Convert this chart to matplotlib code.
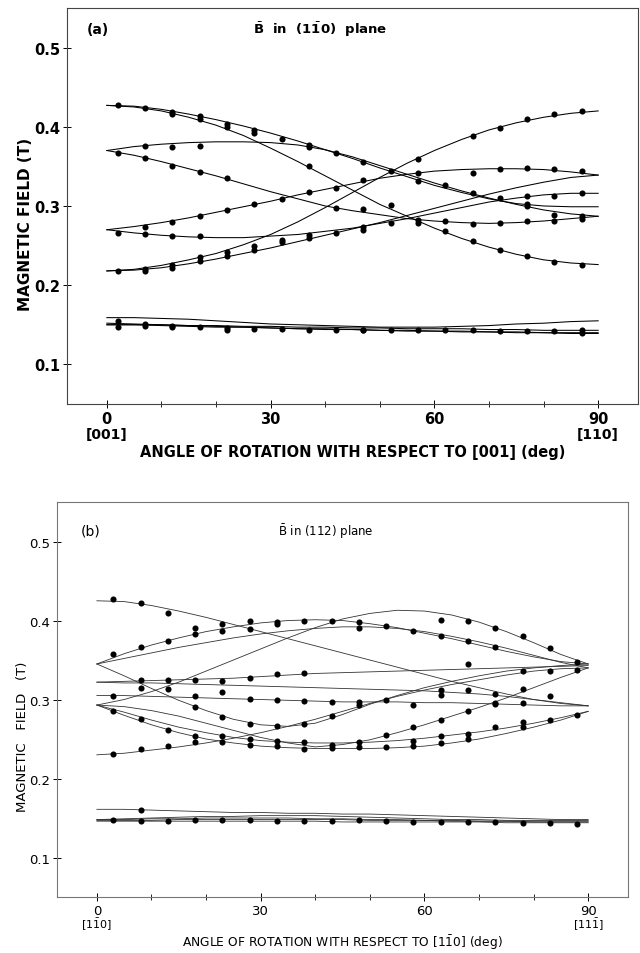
import matplotlib
matplotlib.use("Agg")
import matplotlib.pyplot as plt
from matplotlib.ticker import MultipleLocator
import matplotlib.transforms as mtransforms

# curve grid (deg)
ang = [0, 5, 10, 15, 20, 25, 30, 35, 40, 45, 50, 55, 60, 65, 70, 75, 80, 85, 90]

# ---- panel (a): B in (1-10) plane ----
curves_a = [
    [0.427, 0.425, 0.420, 0.412, 0.402, 0.389, 0.373, 0.356, 0.338, 0.320, 0.302, 0.287, 0.272, 0.259, 0.248, 0.239, 0.232, 0.228, 0.226],
    [0.427, 0.426, 0.422, 0.416, 0.409, 0.401, 0.392, 0.382, 0.371, 0.360, 0.348, 0.337, 0.326, 0.317, 0.309, 0.303, 0.300, 0.299, 0.299],
    [0.370, 0.375, 0.378, 0.380, 0.381, 0.381, 0.380, 0.377, 0.371, 0.362, 0.351, 0.340, 0.329, 0.319, 0.310, 0.302, 0.295, 0.290, 0.287],
    [0.370, 0.364, 0.356, 0.347, 0.338, 0.328, 0.318, 0.309, 0.300, 0.294, 0.289, 0.284, 0.281, 0.279, 0.278, 0.279, 0.281, 0.284, 0.287],
    [0.270, 0.274, 0.279, 0.285, 0.292, 0.299, 0.306, 0.314, 0.321, 0.328, 0.335, 0.340, 0.344, 0.346, 0.347, 0.347, 0.346, 0.343, 0.339],
    [0.218, 0.220, 0.225, 0.232, 0.240, 0.251, 0.264, 0.280, 0.298, 0.317, 0.336, 0.354, 0.370, 0.384, 0.396, 0.405, 0.412, 0.417, 0.420],
    [0.218, 0.219, 0.222, 0.227, 0.233, 0.240, 0.247, 0.255, 0.263, 0.271, 0.279, 0.288, 0.297, 0.306, 0.315, 0.323, 0.330, 0.336, 0.339],
    [0.270, 0.266, 0.263, 0.261, 0.260, 0.260, 0.262, 0.264, 0.268, 0.272, 0.278, 0.284, 0.291, 0.298, 0.305, 0.310, 0.314, 0.316, 0.316],
    [0.159, 0.159, 0.158, 0.157, 0.155, 0.153, 0.151, 0.150, 0.149, 0.148, 0.147, 0.147, 0.147, 0.148, 0.149, 0.151, 0.152, 0.154, 0.155],
    [0.150, 0.150, 0.150, 0.149, 0.149, 0.148, 0.148, 0.147, 0.147, 0.146, 0.146, 0.145, 0.145, 0.145, 0.144, 0.144, 0.143, 0.143, 0.143],
    [0.150, 0.150, 0.149, 0.148, 0.147, 0.147, 0.146, 0.145, 0.145, 0.144, 0.143, 0.143, 0.142, 0.142, 0.141, 0.141, 0.140, 0.140, 0.140],
    [0.152, 0.151, 0.150, 0.149, 0.148, 0.147, 0.146, 0.145, 0.144, 0.144, 0.143, 0.142, 0.142, 0.141, 0.141, 0.140, 0.140, 0.139, 0.139],
]

dots_a_x = [2, 7, 12, 12, 17, 17, 22, 22, 27, 27, 32, 37, 37, 42, 47, 52, 57, 62, 67, 72, 77, 77,
            7, 12, 17,
            2, 7, 12, 17, 22, 42, 47, 57, 62, 67, 72, 77, 82, 87, 87,
            37, 52, 57, 62, 67, 72, 77, 82, 87,
            7, 12, 17, 22, 27, 32, 37, 42, 47, 57, 67, 72, 77, 82, 87,
            57, 67, 72, 77, 82, 87,
            2, 7, 7, 12, 12, 17, 17, 22, 22, 27, 27, 32, 32, 37, 37, 42, 47, 47, 52,
            2, 7, 12, 17,
            77, 82, 87, 82,
            2, 2, 7, 7, 12, 12, 17, 22, 22, 27, 32, 37, 42, 47, 47, 52, 57, 62, 67, 72, 77, 82, 87, 87]
dots_a_y = [0.427, 0.424, 0.419, 0.416, 0.413, 0.410, 0.404, 0.400, 0.396, 0.392, 0.384, 0.377, 0.374, 0.367, 0.356, 0.344, 0.332, 0.326, 0.316, 0.310, 0.303, 0.300,
            0.376, 0.374, 0.376,
            0.367, 0.361, 0.351, 0.343, 0.335, 0.297, 0.296, 0.282, 0.281, 0.277, 0.279, 0.281, 0.281, 0.284, 0.287,
            0.351, 0.301, 0.279, 0.268, 0.256, 0.245, 0.237, 0.229, 0.226,
            0.274, 0.280, 0.287, 0.295, 0.302, 0.309, 0.318, 0.323, 0.333, 0.342, 0.341, 0.347, 0.348, 0.347, 0.344,
            0.359, 0.388, 0.398, 0.410, 0.416, 0.420,
            0.218, 0.218, 0.221, 0.222, 0.226, 0.231, 0.235, 0.237, 0.242, 0.244, 0.249, 0.254, 0.257, 0.260, 0.263, 0.266, 0.270, 0.273, 0.279,
            0.266, 0.264, 0.262, 0.262,
            0.313, 0.313, 0.317, 0.289,
            0.155, 0.147, 0.151, 0.148, 0.149, 0.147, 0.147, 0.146, 0.144, 0.145, 0.145, 0.144, 0.144, 0.144, 0.143, 0.143, 0.143, 0.143, 0.143, 0.142, 0.142, 0.142, 0.143, 0.140]

# ---- panel (b): B in (112) plane ----
curves_b = [
    [0.425, 0.424, 0.419, 0.412, 0.404, 0.395, 0.386, 0.377, 0.368, 0.359, 0.350, 0.341, 0.332, 0.323, 0.315, 0.307, 0.300, 0.295, 0.292],
    [0.345, 0.358, 0.369, 0.378, 0.386, 0.392, 0.397, 0.400, 0.401, 0.400, 0.396, 0.391, 0.384, 0.377, 0.369, 0.361, 0.354, 0.348, 0.345],
    [0.345, 0.352, 0.359, 0.366, 0.372, 0.378, 0.383, 0.387, 0.390, 0.392, 0.392, 0.390, 0.386, 0.380, 0.373, 0.365, 0.356, 0.347, 0.340],
    [0.293, 0.300, 0.310, 0.322, 0.336, 0.350, 0.364, 0.378, 0.391, 0.402, 0.409, 0.413, 0.412, 0.407, 0.398, 0.386, 0.372, 0.357, 0.345],
    [0.322, 0.323, 0.324, 0.325, 0.326, 0.327, 0.329, 0.331, 0.333, 0.334, 0.335, 0.336, 0.337, 0.338, 0.339, 0.340, 0.341, 0.342, 0.343],
    [0.322, 0.321, 0.321, 0.320, 0.319, 0.318, 0.317, 0.316, 0.315, 0.314, 0.313, 0.312, 0.311, 0.309, 0.307, 0.304, 0.300, 0.296, 0.292],
    [0.305, 0.305, 0.304, 0.303, 0.302, 0.301, 0.300, 0.299, 0.298, 0.297, 0.297, 0.297, 0.296, 0.296, 0.295, 0.294, 0.293, 0.292, 0.292],
    [0.345, 0.330, 0.314, 0.299, 0.286, 0.275, 0.268, 0.266, 0.270, 0.281, 0.294, 0.305, 0.315, 0.323, 0.330, 0.336, 0.340, 0.343, 0.345],
    [0.230, 0.232, 0.236, 0.240, 0.245, 0.251, 0.258, 0.266, 0.275, 0.285, 0.295, 0.304, 0.312, 0.319, 0.325, 0.331, 0.336, 0.339, 0.340],
    [0.293, 0.284, 0.274, 0.265, 0.258, 0.252, 0.248, 0.246, 0.245, 0.245, 0.246, 0.248, 0.251, 0.255, 0.259, 0.264, 0.270, 0.277, 0.285],
    [0.293, 0.280, 0.268, 0.258, 0.250, 0.245, 0.241, 0.239, 0.238, 0.238, 0.238, 0.239, 0.241, 0.245, 0.250, 0.257, 0.265, 0.274, 0.285],
    [0.293, 0.291, 0.286, 0.279, 0.270, 0.261, 0.252, 0.245, 0.240, 0.243, 0.249, 0.258, 0.268, 0.279, 0.290, 0.302, 0.315, 0.328, 0.340],
    [0.161, 0.161, 0.160, 0.159, 0.158, 0.157, 0.157, 0.156, 0.156, 0.155, 0.155, 0.154, 0.153, 0.152, 0.151, 0.150, 0.149, 0.148, 0.148],
    [0.148, 0.149, 0.150, 0.151, 0.152, 0.152, 0.153, 0.153, 0.153, 0.152, 0.151, 0.150, 0.149, 0.148, 0.148, 0.147, 0.147, 0.147, 0.147],
    [0.148, 0.148, 0.149, 0.149, 0.150, 0.150, 0.150, 0.150, 0.149, 0.149, 0.148, 0.148, 0.147, 0.147, 0.146, 0.146, 0.146, 0.146, 0.146],
    [0.146, 0.146, 0.146, 0.146, 0.146, 0.146, 0.146, 0.146, 0.146, 0.145, 0.145, 0.145, 0.145, 0.145, 0.145, 0.144, 0.144, 0.144, 0.144],
    [0.147, 0.147, 0.147, 0.148, 0.148, 0.148, 0.148, 0.148, 0.148, 0.148, 0.147, 0.147, 0.147, 0.146, 0.146, 0.146, 0.145, 0.145, 0.145],
]

dots_b_x = [3, 8, 13, 18, 18, 23, 23, 28, 28, 33, 33, 38, 43, 48, 48, 53, 58, 63, 63, 68, 68, 73, 73, 78, 83, 88, 88,
            3, 8, 13,
            8, 13, 18, 23, 28, 33, 38, 68, 78, 83,
            3, 8, 13, 18, 23, 28, 33, 38, 43, 48, 53, 58, 63, 63, 68, 73, 73, 78, 78, 83, 18,
            3, 8, 13, 18, 18, 23, 23, 23, 28, 28, 28, 33, 33, 33, 38, 38, 38, 43, 43, 43, 48, 48, 48,
            53, 53, 58, 58, 58, 63, 63, 63, 68, 68, 68, 73, 73, 78, 78, 83, 88,
            3, 8, 13,
            3, 8, 8, 13, 18, 23, 28, 33, 38, 43, 48, 53, 58, 63, 68, 73, 78, 83, 88]
dots_b_y = [0.427, 0.4225, 0.410, 0.391, 0.383, 0.395, 0.387, 0.399, 0.389, 0.398, 0.395, 0.399, 0.399, 0.398, 0.391, 0.393, 0.387, 0.401, 0.380, 0.399, 0.374, 0.391, 0.367, 0.381, 0.365, 0.347, 0.338,
            0.358, 0.366, 0.374,
            0.325, 0.325, 0.325, 0.323, 0.327, 0.332, 0.333, 0.345, 0.336, 0.336,
            0.305, 0.314, 0.313, 0.304, 0.309, 0.301, 0.300, 0.298, 0.297, 0.297, 0.299, 0.293, 0.312, 0.306, 0.312, 0.307, 0.294, 0.313, 0.296, 0.305, 0.290,
            0.285, 0.275, 0.262, 0.254, 0.246, 0.278, 0.254, 0.246, 0.269, 0.250, 0.242, 0.267, 0.248, 0.241, 0.269, 0.246, 0.237, 0.279, 0.242, 0.239, 0.293, 0.246, 0.240,
            0.255, 0.240, 0.265, 0.248, 0.241, 0.274, 0.254, 0.245, 0.285, 0.256, 0.250, 0.295, 0.265, 0.271, 0.265, 0.274, 0.280,
            0.231, 0.237, 0.241,
            0.148, 0.160, 0.146, 0.146, 0.147, 0.147, 0.147, 0.146, 0.146, 0.146, 0.147, 0.146, 0.145, 0.145, 0.145, 0.145, 0.144, 0.144, 0.142]

yticks = [0.1, 0.2, 0.3, 0.4, 0.5]
xticks = [0, 30, 60, 90]


def setup_axes(ax, bold, size, spine_col):
    ax.set_xlim(-7.3, 97.3)
    ax.set_ylim(0.05, 0.55)
    ax.set_yticks(yticks)
    ax.set_yticklabels([str(v) for v in yticks])
    ax.set_xticks(xticks)
    ax.set_xticklabels([str(v) for v in xticks])
    ax.xaxis.set_minor_locator(MultipleLocator(10))
    w = 'bold' if bold else 'normal'
    ax.tick_params(which='major', direction='inout', length=6, width=0.7,
                   labelsize=size, pad=2, colors='black')
    ax.tick_params(which='minor', direction='inout', length=5, width=0.6)
    for lab in ax.get_xticklabels() + ax.get_yticklabels():
        lab.set_fontweight(w)
    for s in ax.spines.values():
        s.set_color(spine_col)
        s.set_linewidth(0.8)


fig = plt.figure(figsize=(6.4, 9.54), dpi=100)

# panel (a)
ax1 = fig.add_axes([0.1047, 0.5755, 0.8922, 0.4151])
for c in curves_a:
    ax1.plot(ang, c, color='black', lw=0.75)
ax1.plot(dots_a_x, dots_a_y, 'o', color='black', ms=4.4, mec='none')
setup_axes(ax1, True, 10.5, '#444444')
trans1 = mtransforms.blended_transform_factory(ax1.transData, ax1.transAxes)
ax1.text(0, -0.075, '[001]', transform=trans1, ha='center', va='center',
         fontsize=10, fontweight='bold')
ax1.text(90, -0.075, '[110]', transform=trans1, ha='center', va='center',
         fontsize=10, fontweight='bold')
ax1.text(0.5, -0.121, 'ANGLE OF ROTATION WITH RESPECT TO [001] (deg)',
         transform=ax1.transAxes, ha='center', va='center', fontsize=10.5, fontweight='bold')
ax1.text(-0.0735, 0.455, 'MAGNETIC FIELD (T)', transform=ax1.transAxes, rotation=90,
         ha='center', va='center', fontsize=11, fontweight='bold')
ax1.text(0.054, 0.947, '(a)', transform=ax1.transAxes, ha='center', va='center',
         fontsize=10, fontweight='bold')
ax1.text(0.443, 0.947, r'$\bar{\mathbf{B}}$  in  (1$\bar{\mathbf{1}}$0)  plane',
         transform=ax1.transAxes, ha='center', va='center', fontsize=9.5, fontweight='bold')

# panel (b)
ax2 = fig.add_axes([0.0891, 0.0587, 0.8922, 0.4140])
for c in curves_b:
    ax2.plot(ang, c, color='#333333', lw=0.6)
ax2.plot(dots_b_x, dots_b_y, 'o', color='black', ms=4.4, mec='none')
setup_axes(ax2, False, 9.5, '#777777')
trans2 = mtransforms.blended_transform_factory(ax2.transData, ax2.transAxes)
ax2.text(0, -0.068, r'[1$\bar{1}$0]', transform=trans2, ha='center', va='center', fontsize=8)
ax2.text(90, -0.068, r'[11$\bar{1}$]', transform=trans2, ha='center', va='center', fontsize=8)
ax2.text(0.5, -0.113, r'ANGLE OF ROTATION WITH RESPECT TO [1$\bar{1}$0] (deg)',
         transform=ax2.transAxes, ha='center', va='center', fontsize=8.8)
ax2.text(-0.061, 0.408, 'MAGNETIC   FIELD   (T)', transform=ax2.transAxes, rotation=90,
         ha='center', va='center', fontsize=9.5)
ax2.text(0.058, 0.927, '(b)', transform=ax2.transAxes, ha='center', va='center', fontsize=10)
ax2.text(0.47, 0.927, r'$\bar{\mathrm{B}}$ in (112) plane', transform=ax2.transAxes,
         ha='center', va='center', fontsize=8.5)

fig.savefig('out.png', dpi=100)
